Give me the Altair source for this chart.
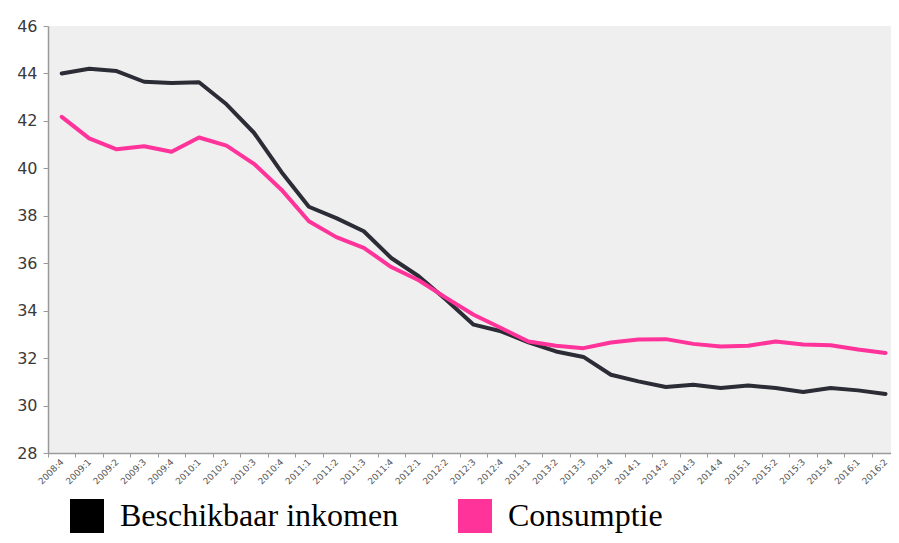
import altair as alt
import pandas as pd

quarters = [
    "2008:4",
    "2009:1", "2009:2", "2009:3", "2009:4",
    "2010:1", "2010:2", "2010:3", "2010:4",
    "2011:1", "2011:2", "2011:3", "2011:4",
    "2012:1", "2012:2", "2012:3", "2012:4",
    "2013:1", "2013:2", "2013:3", "2013:4",
    "2014:1", "2014:2", "2014:3", "2014:4",
    "2015:1", "2015:2", "2015:3", "2015:4",
    "2016:1", "2016:2",
]

inkomen = [
    44.0,
    44.2, 44.1, 43.65, 43.6,
    43.63, 42.7, 41.5, 39.85,
    38.38, 37.9, 37.35, 36.22,
    35.45, 34.46, 33.41, 33.13,
    32.66, 32.28, 32.05, 31.3,
    31.02, 30.78, 30.88, 30.74,
    30.85, 30.74, 30.57, 30.74,
    30.64, 30.49,
]

consumptie = [
    42.17,
    41.26, 40.8, 40.93, 40.7,
    41.3, 40.96, 40.19, 39.1,
    37.77, 37.1, 36.65, 35.84,
    35.28, 34.54, 33.83, 33.27,
    32.7, 32.52, 32.42, 32.66,
    32.78, 32.8, 32.6, 32.49,
    32.52, 32.7, 32.57, 32.54,
    32.36, 32.22,
]

series_names = ["Beschikbaar inkomen", "Consumptie"]
line_colors = ["#2b2c35", "#ff3399"]
legend_colors = ["#000000", "#ff3399"]
y_ticks = [28, 30, 32, 34, 36, 38, 40, 42, 44, 46]

n = len(quarters)
df = pd.DataFrame({
    "idx": list(range(n)) * 2,
    "waarde": inkomen + consumptie,
    "reeks": [series_names[0]] * n + [series_names[1]] * n,
})

# axis values: band boundaries (ticks only) and band centres (labels only)
x_values = sorted([i for i in range(n)] + [i - 0.5 for i in range(n)])
label_array = "[" + ",".join("'" + q + "'" for q in quarters) + "]"

x_enc = alt.X(
    "idx:Q",
    scale=alt.Scale(domain=[-0.5, n - 0.8], nice=False, zero=False),
    axis=alt.Axis(
        title=None,
        values=x_values,
        labelExpr="datum.value % 1 == 0 ? " + label_array + "[datum.value] : ''",
        labelAngle=-45,
        labelAlign="right",
        labelBaseline="middle",
        labelFont="DejaVu Sans",
        labelFontSize=9,
        labelColor="#555555",
        labelPadding=3,
        labelOverlap=False,
        labelFlush=False,
        labelBound=False,
        tickSize=4,
        tickColor="#9a9a9a",
        tickOpacity={"condition": {"test": "datum.value % 1 == 0", "value": 0}, "value": 1},
        domainColor="#9a9a9a",
        domainWidth=1.5,
        grid=False,
    ),
)

y_enc = alt.Y(
    "waarde:Q",
    scale=alt.Scale(domain=[28, 46], nice=False, zero=False),
    axis=alt.Axis(
        title=None,
        values=y_ticks,
        grid=False,
        labelFont="DejaVu Sans",
        labelFontSize=16,
        labelColor="#3a3a3a",
        labelPadding=6,
        tickSize=5,
        tickColor="#9a9a9a",
        domainColor="#9a9a9a",
        domainWidth=1.5,
    ),
)

lines = alt.Chart(df).mark_line(
    strokeWidth=4, strokeCap="round", strokeJoin="round", clip=True
).encode(
    x=x_enc,
    y=y_enc,
    color=alt.Color(
        "reeks:N",
        scale=alt.Scale(range=line_colors),
        legend=None,
    ),
)

legend_layer = alt.Chart(df).transform_calculate(
    legende="datum.reeks"
).mark_square(filled=True, size=0, opacity=1).encode(
    x=x_enc,
    y=y_enc,
    fill=alt.Fill(
        "legende:N",
        scale=alt.Scale(range=legend_colors),
        legend=alt.Legend(
            title=None,
            orient="none",
            legendX=22,
            legendY=473,
            direction="horizontal",
            symbolType="square",
            symbolSize=1156,
            symbolStrokeWidth=0,
            symbolOpacity=1,
            labelFont="Liberation Serif",
            labelFontSize=32,
            labelColor="#000000",
            labelLimit=500,
            labelOffset=16,
            columnPadding=59,
            padding=0,
        ),
    ),
)

chart = alt.layer(lines, legend_layer).properties(
    width=843,
    height=427,
    autosize="none",
    padding={"left": 40, "top": 18, "right": 0, "bottom": 80},
).configure_view(
    fill="#efefef",
    strokeWidth=0,
)

chart.save("out.html", embed_options={"renderer": "svg", "actions": False})
